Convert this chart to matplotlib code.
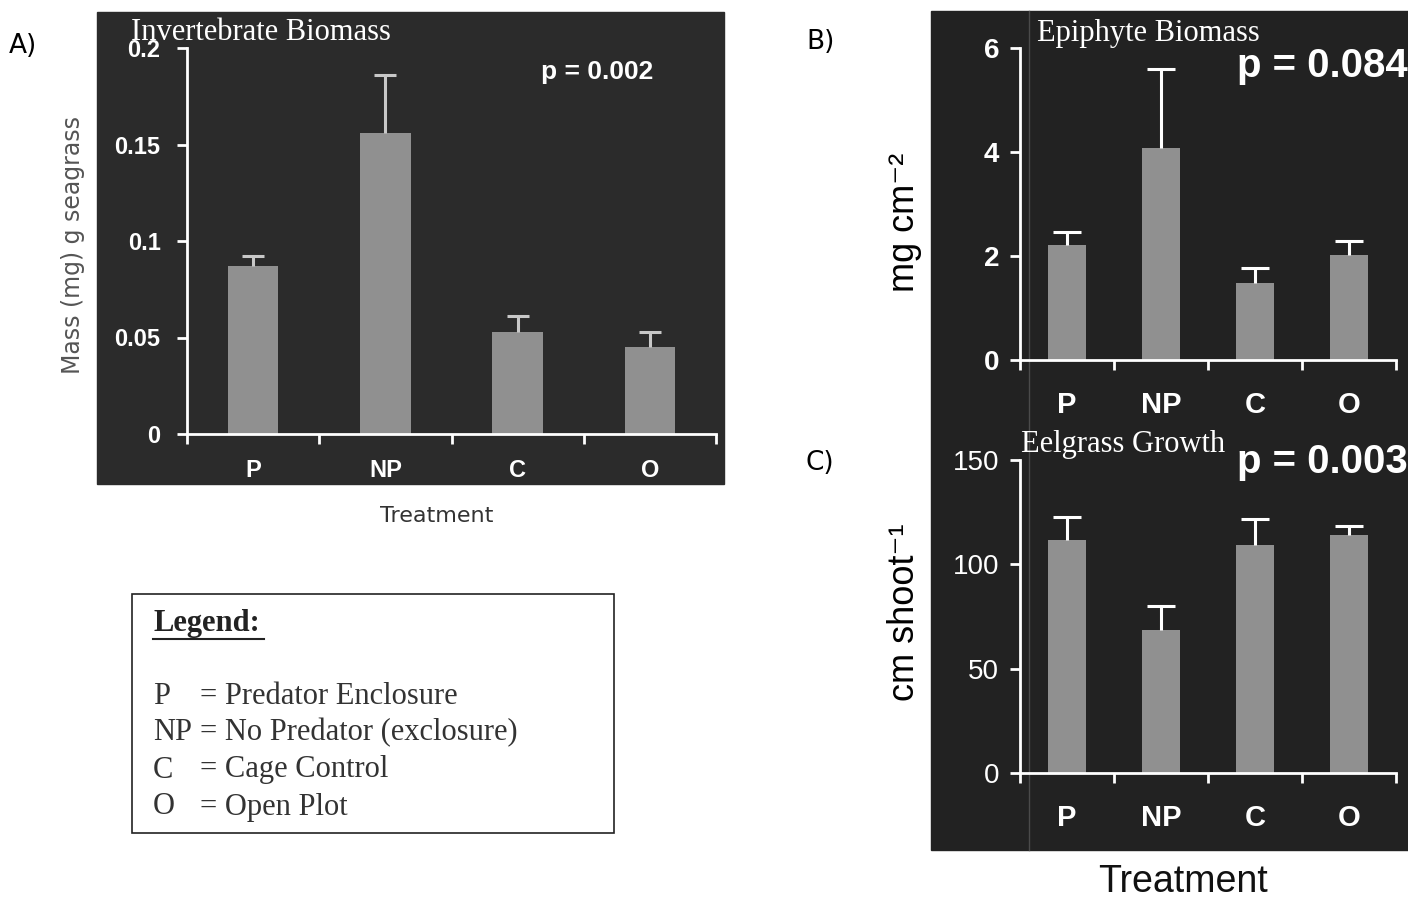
import numpy as np
import matplotlib.pyplot as plt
from matplotlib.patches import Rectangle
from matplotlib.lines import Line2D

treatments = ['P', 'NP', 'C', 'O']

# A) invertebrate biomass, mg per g seagrass
invert_mass = [0.087, 0.156, 0.053, 0.045]
invert_err = [0.005, 0.030, 0.008, 0.008]

# B) epiphyte biomass, mg cm-2
epiphyte_mass = [2.21, 4.08, 1.48, 2.02]
epiphyte_err = [0.25, 1.52, 0.29, 0.27]

# C) eelgrass growth, cm shoot-1
eelgrass_growth = [111.5, 68.5, 109.5, 114.0]
eelgrass_err = [11.0, 11.5, 12.0, 4.5]

legend_codes = ['P', 'NP', 'C', 'O']
legend_names = ['Predator Enclosure', 'No Predator (exclosure)',
                'Cage Control', 'Open Plot']

W, H = 1408, 901


def fx(px):
    return px / W


def fy(py):
    return 1 - py / H


def box(x0, y0, x1, y1):
    return [fx(x0), fy(y1), fx(x1) - fx(x0), fy(y0) - fy(y1)]


def draw_panel(ax, values, errs, ylim, yticks, yticklabels, bar_color, err_color,
               width, capsize, ysize, yweight, xsize, xpad, ypad):
    x = np.arange(len(treatments))
    ax.bar(x, values, width=width, color=bar_color, zorder=2)
    eb = ax.errorbar(x, values, yerr=[np.zeros(len(errs)), errs], fmt='none',
                     ecolor=err_color, elinewidth=2.2, capsize=capsize, capthick=2.2, zorder=3)
    # only keep the upper caps
    eb[1][0].set_visible(False)
    ax.set_xlim(-0.5, 3.5)
    ax.set_ylim(*ylim)
    ax.set_yticks(yticks)
    ax.set_yticklabels(yticklabels)
    ax.set_xticks(np.arange(-0.5, 4, 1))
    ax.set_xticklabels([])
    ax.set_xticks(x, minor=True)
    ax.set_xticklabels(treatments, minor=True)
    ax.tick_params(axis='x', which='major', length=7, width=2, color='white', direction='out')
    ax.tick_params(axis='x', which='minor', length=0, pad=xpad, labelsize=xsize,
                   labelcolor='white')
    ax.tick_params(axis='y', length=7, width=2, color='white', pad=ypad,
                   labelsize=ysize, labelcolor='white')
    for lab in ax.get_xticklabels(minor=True):
        lab.set_fontweight('bold')
    for lab in ax.get_yticklabels():
        lab.set_fontweight(yweight)
    ax.patch.set_visible(False)
    for s in ['top', 'right']:
        ax.spines[s].set_visible(False)
    for s in ['left', 'bottom']:
        ax.spines[s].set_color('white')
        ax.spines[s].set_linewidth(2)


plt.rcParams['font.family'] = ['Liberation Sans', 'DejaVu Sans']
fig = plt.figure(figsize=(W / 100, H / 100), dpi=100)

# dark panel backgrounds
fig.add_artist(Rectangle((fx(97), fy(484)), fx(724) - fx(97), fy(12) - fy(484),
                         transform=fig.transFigure, color='#2b2b2b', zorder=-2))
fig.add_artist(Rectangle((fx(931), fy(850)), fx(1408) - fx(931), fy(11) - fy(850),
                         transform=fig.transFigure, color='#222222', zorder=-2))
fig.add_artist(Line2D([fx(1029), fx(1029)], [fy(850), fy(11)], transform=fig.transFigure,
                      color='#4a4a4a', lw=1, zorder=-1))

# Panel A
axA = fig.add_axes(box(187, 48, 716, 434))
draw_panel(axA, invert_mass, invert_err, (0, 0.2), [0, 0.05, 0.1, 0.15, 0.2],
           ['0', '0.05', '0.1', '0.15', '0.2'], '#909090', '#c8c8c8',
           0.38, 8, 17, 'bold', 17, 18, 12)
fig.text(fx(131), fy(32), 'Invertebrate Biomass', family='Liberation Serif', fontsize=22,
         color='white', va='center', ha='left')
fig.text(fx(597), fy(72), 'p = 0.002', fontsize=19, fontweight='bold', color='white',
         va='center', ha='center')
fig.text(fx(73), fy(245), 'Mass (mg) g seagrass', rotation=90, fontsize=17,
         family='DejaVu Sans', color='#555555', va='center', ha='center')
fig.text(fx(437), fy(516), 'Treatment', fontsize=16, family='DejaVu Sans',
         color='#333333', va='center', ha='center')

# Panel B
axB = fig.add_axes(box(1020, 48, 1396, 360))
draw_panel(axB, epiphyte_mass, epiphyte_err, (0, 6), [0, 2, 4, 6],
           ['0', '2', '4', '6'], '#909090', 'white',
           0.4, 10, 20, 'bold', 21, 22, 8)
fig.text(fx(1037), fy(34), 'Epiphyte Biomass', family='Liberation Serif', fontsize=22,
         color='white', va='center', ha='left')
fig.text(fx(1408), fy(66), 'p = 0.084', fontsize=29, fontweight='bold', color='white',
         va='center', ha='right')
fig.text(fx(905), fy(222), 'mg cm\u207b\u00b2', rotation=90, fontsize=26,
         color='black', va='center', ha='center')

# Panel C
axC = fig.add_axes(box(1020, 460, 1396, 773))
draw_panel(axC, eelgrass_growth, eelgrass_err, (0, 150), [0, 50, 100, 150],
           ['0', '50', '100', '150'], '#909090', 'white',
           0.4, 10, 20, 'normal', 21, 22, 8)
fig.text(fx(1021), fy(445), 'Eelgrass Growth', family='Liberation Serif', fontsize=22,
         color='white', va='center', ha='left')
fig.text(fx(1408), fy(462), 'p = 0.003', fontsize=29, fontweight='bold', color='white',
         va='center', ha='right')
fig.text(fx(905), fy(612), 'cm shoot\u207b\u00b9', rotation=90, fontsize=26,
         color='black', va='center', ha='center')
fig.text(fx(1183), fy(882), 'Treatment', fontsize=27, color='#111111',
         va='center', ha='center')

# panel letters
fig.text(fx(9), fy(46), 'A)', fontsize=19, family='DejaVu Sans', va='center', ha='left')
fig.text(fx(806), fy(42), 'B)', fontsize=19, family='DejaVu Sans', va='center', ha='left')
fig.text(fx(806), fy(463), 'C)', fontsize=19, family='DejaVu Sans', va='center', ha='left')

# legend box
fig.add_artist(Rectangle((fx(132), fy(833)), fx(614) - fx(132), fy(594) - fy(833),
                         transform=fig.transFigure, facecolor='white', edgecolor='#222222',
                         lw=1.2, zorder=1))
fig.text(fx(153), fy(624), 'Legend:', family='Liberation Serif', fontsize=22,
         fontweight='bold', color='#222222', va='center', ha='left')
fig.add_artist(Line2D([fx(153), fx(264)], [fy(639), fy(639)], transform=fig.transFigure,
                      color='#222222', lw=1.5))
for i, (code, name) in enumerate(zip(legend_codes, legend_names)):
    yy = 696 + i * 37
    fig.text(fx(153), fy(yy), code, family='Liberation Serif', fontsize=22,
             color='#333333', va='center', ha='left')
    fig.text(fx(200), fy(yy), '= ' + name, family='Liberation Serif', fontsize=22,
             color='#333333', va='center', ha='left')

fig.savefig('out.png', dpi=100)
